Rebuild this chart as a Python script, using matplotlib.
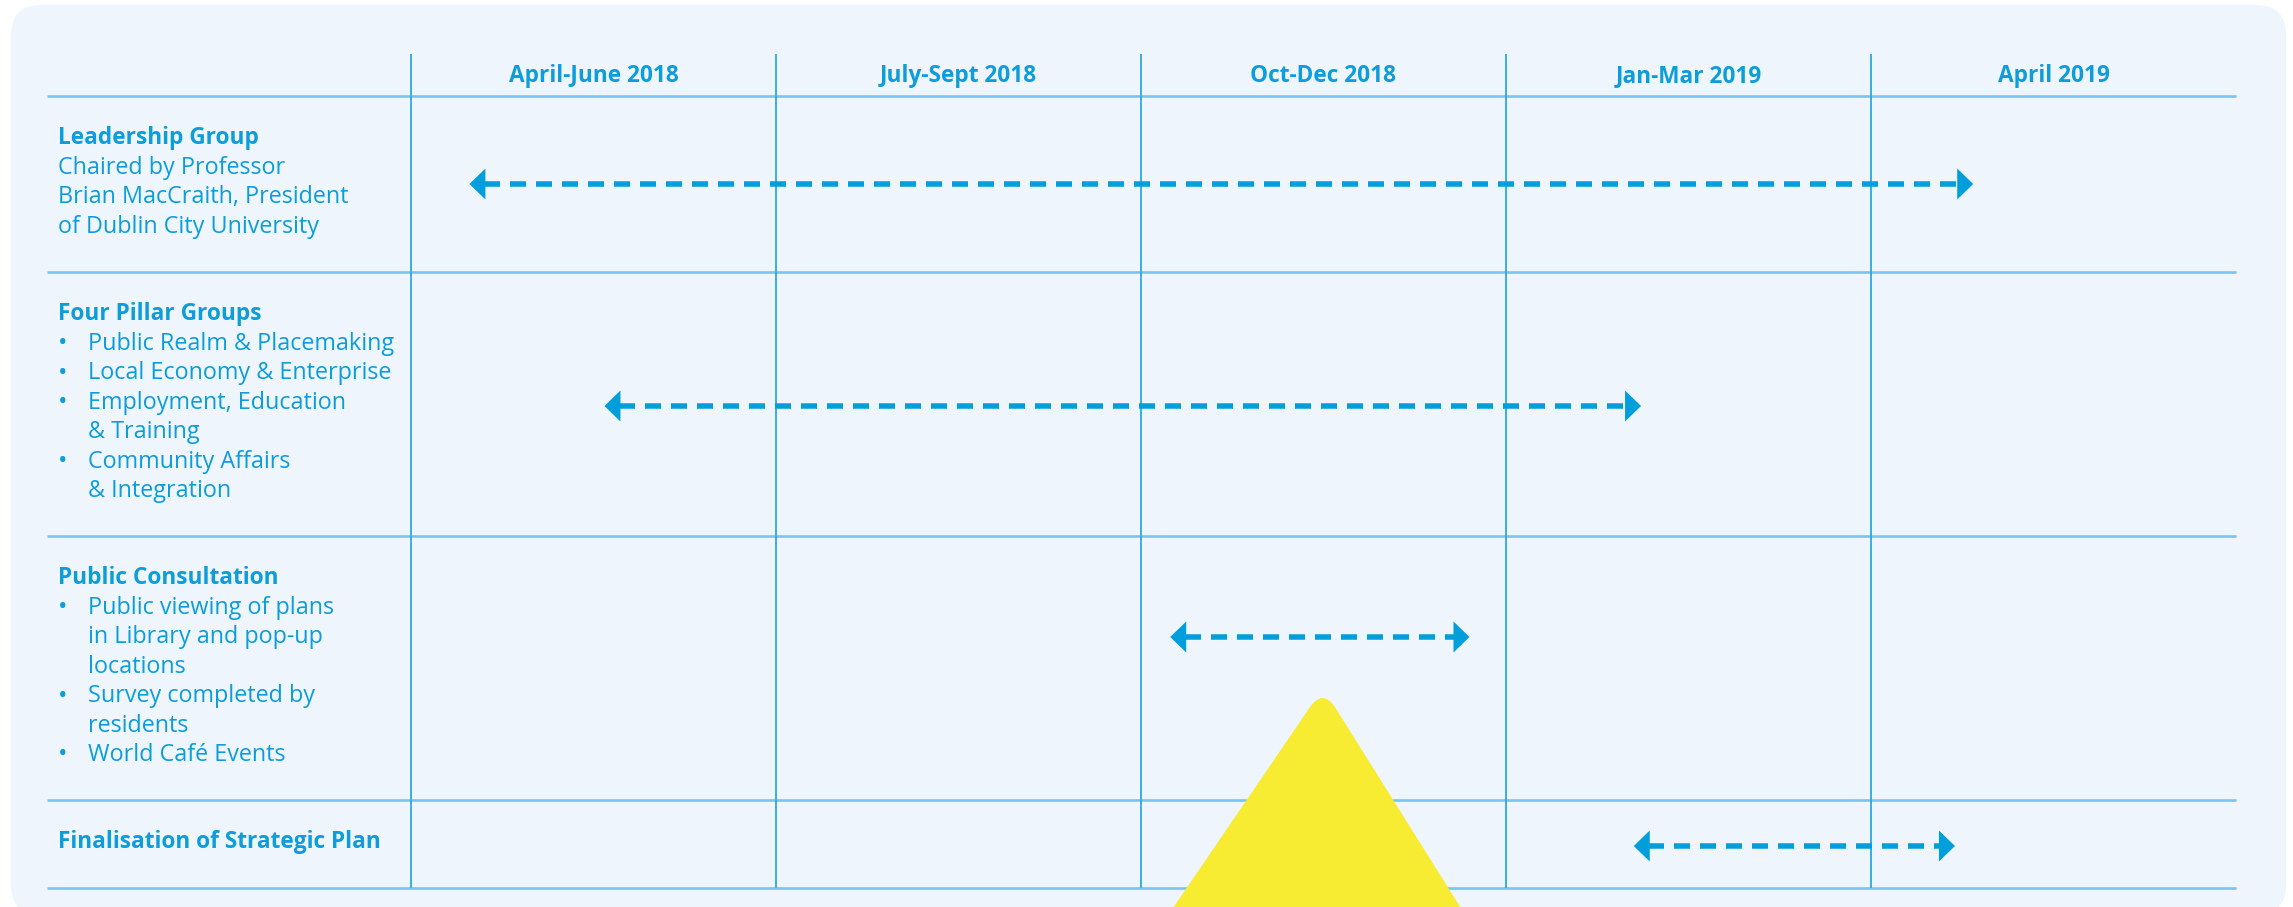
import matplotlib
matplotlib.use("Agg")
import matplotlib.pyplot as plt
from matplotlib.patches import FancyBboxPatch, Polygon, PathPatch
from matplotlib.path import Path
from matplotlib.transforms import Affine2D

plt.rcParams['lines.scale_dashes'] = False
FONT = ['Open Sans', 'DejaVu Sans']
FS = 16.8
FS_BOLD = 16.3

# ---------------- data ----------------
periods = ["April-June 2018", "July-Sept 2018", "Oct-Dec 2018", "Jan-Mar 2019", "April 2019"]
row_titles = ["Leadership Group", "Four Pillar Groups", "Public Consultation",
              "Finalisation of Strategic Plan"]
row_bullets = [
    [("", "Chaired by Professor"), ("", "Brian MacCraith, President"),
     ("", "of Dublin City University")],
    [("\u2022", "Public Realm & Placemaking"), ("\u2022", "Local Economy & Enterprise"),
     ("\u2022", "Employment, Education"), ("", "& Training"),
     ("\u2022", "Community Affairs"), ("", "& Integration")],
    [("\u2022", "Public viewing of plans"), ("", "in Library and pop-up"), ("", "locations"),
     ("\u2022", "Survey completed by"), ("", "residents"), ("\u2022", "World Café Events")],
    [],
]
# activity spans in quarter units (0 = start of April-June 2018 column)
arrow_start = [0.16, 0.53, 2.08, 3.35]
arrow_end = [4.28, 3.37, 2.90, 4.23]

# ---------------- layout (pixels) ----------------
W, H = 2293, 907
DPI = 100
COL0, COLW = 411, 365
TABLE_L, TABLE_R = 47, 2236
HEAD_TOP, HEAD_BOT = 54, 96
ROW_BOTTOMS = [272, 536, 800, 888]
ROW_TITLE_Y = [138.5, 314.5, 578.5, 842.5]
ARROW_Y = [184, 406, 637, 846]
LINE_STEP = 29.4
TEXT_X, BULLET_X, INDENT_X = 58, 63, 88

BLUE = "#0C9DDA"
HLINE = "#74C7EC"
VLINE = "#27A9E3"
PANEL = "#EFF5FC"
YELLOW = "#F7EC31"
ARROW = "#009FDC"


def px2q(p):
    return (p - COL0) / COLW


pt = 72.0 / DPI  # points per pixel

fig = plt.figure(figsize=(W / DPI, H / DPI), dpi=DPI)
fig.patch.set_facecolor("white")
ax = fig.add_axes([0, 0, 1, 1])
ax.set_xlim(px2q(0), px2q(W))
ax.set_ylim(H, 0)
ax.axis("off")

trans_px = Affine2D().scale(1.0 / W, -1.0 / H).translate(0, 1) + fig.transFigure

# background panel
panel = FancyBboxPatch((11, 5), 2286 - 11, 915 - 5,
                       boxstyle="round,pad=0,rounding_size=30",
                       transform=trans_px, facecolor=PANEL, edgecolor="none", zorder=0)
ax.add_patch(panel)

# horizontal grid lines
for yy in [HEAD_BOT] + ROW_BOTTOMS:
    ax.plot([px2q(TABLE_L), px2q(TABLE_R)], [yy, yy], color=HLINE, lw=2.6 * pt,
            solid_capstyle="butt", zorder=2)
# vertical grid lines
for i in range(len(periods)):
    ax.plot([i, i], [HEAD_TOP, ROW_BOTTOMS[-1]], color=VLINE, lw=1.8 * pt,
            solid_capstyle="butt", zorder=2)

# header labels
for i, lab in enumerate(periods):
    ax.text(i + 0.5, 76.5, lab, ha="center", va="center", color=BLUE,
            fontsize=FS_BOLD, fontweight="bold", family=FONT, zorder=3)

# row texts
for r, title in enumerate(row_titles):
    y = ROW_TITLE_Y[r]
    ax.text(px2q(TEXT_X), y, title, ha="left", va="center", color=BLUE,
            fontsize=FS_BOLD, fontweight="bold", family=FONT, zorder=3)
    for k, (b, line) in enumerate(row_bullets[r]):
        yy = y + (k + 1) * LINE_STEP
        if r == 0:
            ax.text(px2q(TEXT_X), yy, line, ha="left", va="center", color=BLUE,
                    fontsize=FS, family=FONT, zorder=3)
        else:
            if b:
                ax.text(px2q(BULLET_X), yy, b, ha="center", va="center", color=BLUE,
                        fontsize=18, family=FONT, zorder=3)
            ax.text(px2q(INDENT_X), yy, line, ha="left", va="center", color=BLUE,
                    fontsize=FS, family=FONT, zorder=3)

# arrows
HEAD_W = 16 / COLW   # in quarter units
HEAD_H = 15.5        # half height in px
for s, e, y in zip(arrow_start, arrow_end, ARROW_Y):
    ax.plot([s + HEAD_W * 0.9, e - HEAD_W * 0.9], [y, y], color=ARROW,
            lw=5.5 * pt, linestyle=(0, (16 * pt, 10 * pt)), solid_capstyle="butt",
            dash_capstyle="butt", zorder=4)
    ax.add_patch(Polygon([(s, y), (s + HEAD_W, y - HEAD_H), (s + HEAD_W, y + HEAD_H)],
                         closed=True, facecolor=ARROW, edgecolor="none", zorder=5))
    ax.add_patch(Polygon([(e, y), (e - HEAD_W, y - HEAD_H), (e - HEAD_W, y + HEAD_H)],
                         closed=True, facecolor=ARROW, edgecolor="none", zorder=5))

# yellow decorative triangle (rounded apex)
apx, apy = 1323, 688
lsl, rsl = 148 / 217, 136 / 217
yb = 960
verts = [(apx - lsl * (yb - apy), yb),
         (apx - lsl * 20, apy + 20),
         (apx, apy),
         (apx + rsl * 20, apy + 20),
         (apx + rsl * (yb - apy), yb),
         (apx - lsl * (yb - apy), yb)]
codes = [Path.MOVETO, Path.LINETO, Path.CURVE3, Path.CURVE3, Path.LINETO, Path.CLOSEPOLY]
ax.add_patch(PathPatch(Path(verts, codes), transform=trans_px, facecolor=YELLOW,
                       edgecolor="none", zorder=6))

fig.savefig("out.png", dpi=DPI, facecolor="white")
